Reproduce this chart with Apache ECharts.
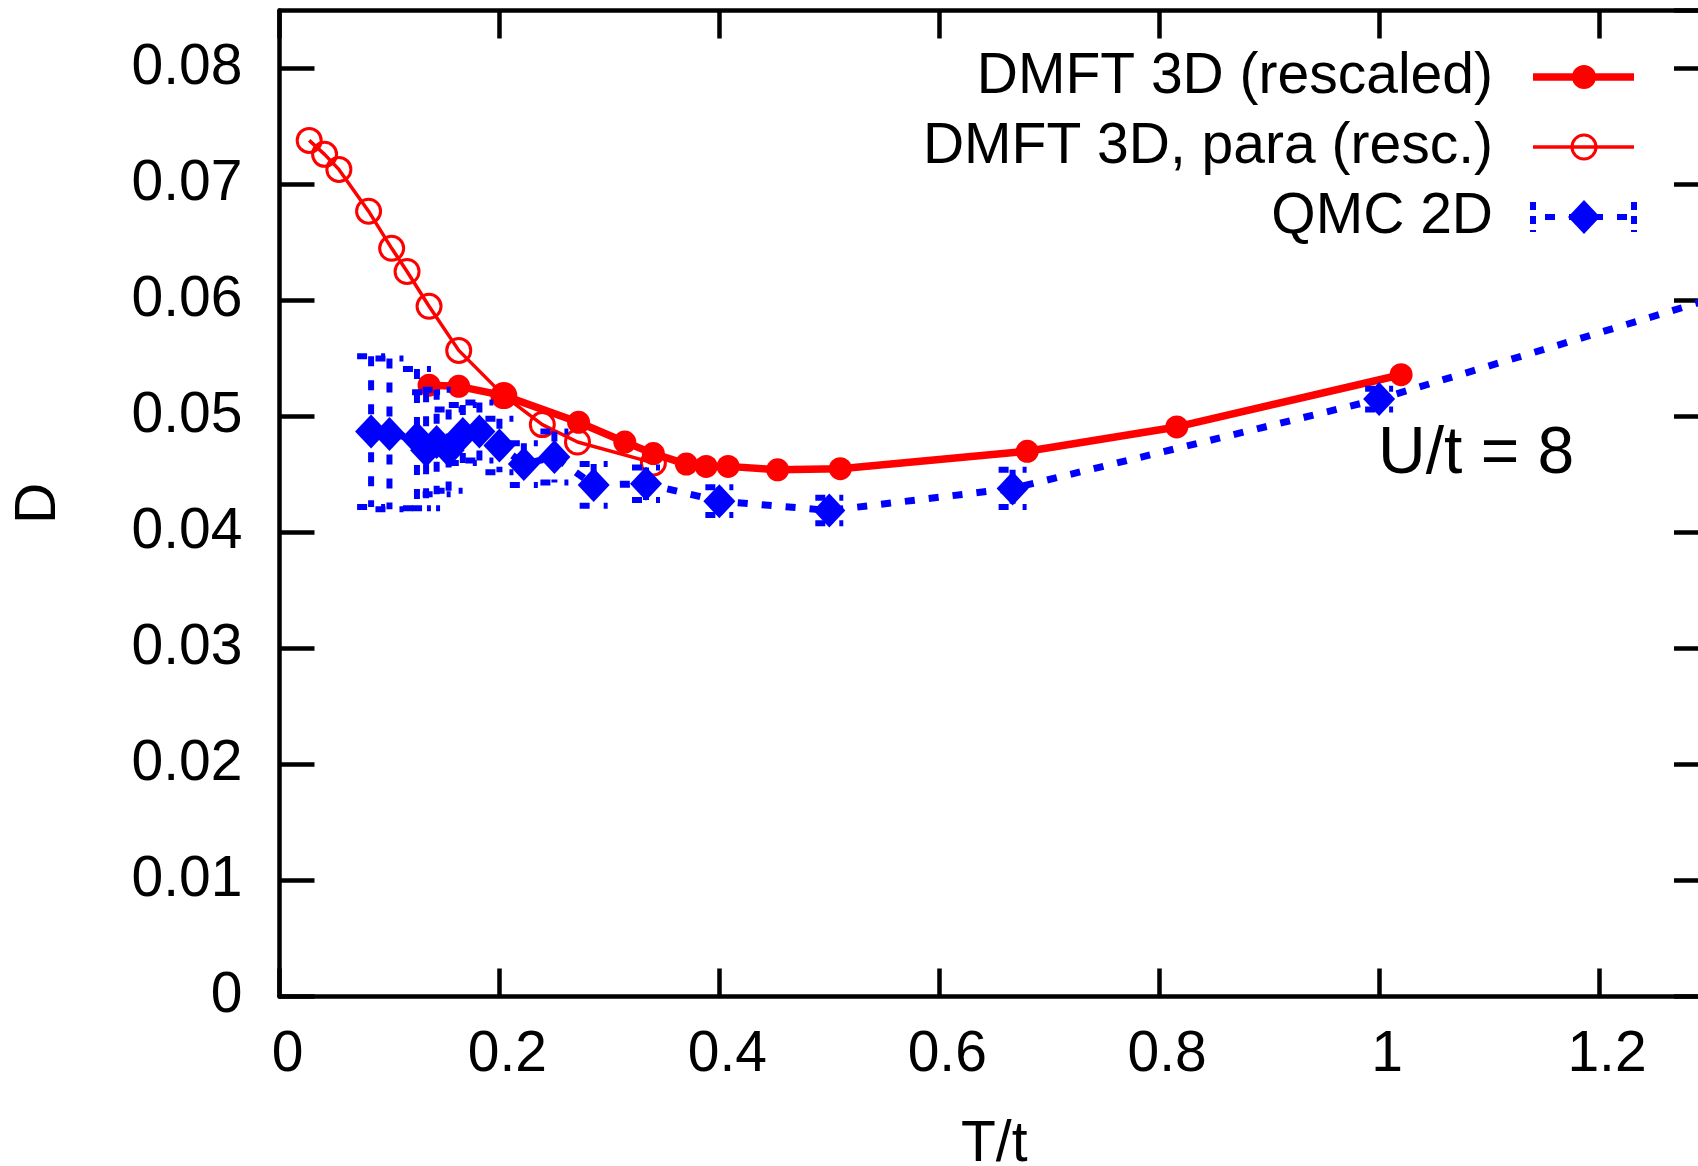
<!DOCTYPE html>
<html><head><meta charset="utf-8">
<script src="https://cdn.jsdelivr.net/npm/echarts@6/dist/echarts.min.js"></script>
<style>html,body{margin:0;padding:0;background:#fff}#c{width:1698px;height:1166px}</style>
</head><body><div id="c"></div>
<script>
// ---- data ----
const dmftT = [0.136, 0.163, 0.204, 0.272, 0.314, 0.340, 0.370, 0.388, 0.408, 0.453, 0.510, 0.680, 0.816, 1.020];
const dmftD = [0.0527, 0.0526, 0.0518, 0.0495, 0.0478, 0.0468, 0.0459, 0.0457, 0.0457, 0.0454, 0.0455, 0.0470, 0.0491, 0.0536];

const paraT = [0.027, 0.041, 0.054, 0.081, 0.102, 0.116, 0.136, 0.163, 0.204, 0.239, 0.271, 0.340];
const paraD = [0.0738, 0.0726, 0.0713, 0.0677, 0.0645, 0.0625, 0.0595, 0.0557, 0.0518, 0.0493, 0.0478, 0.0460];

const qmcT = [0.0833, 0.1, 0.125, 0.1333, 0.1429, 0.1538, 0.1667, 0.1818, 0.2, 0.2222, 0.25, 0.2857, 0.3333, 0.4, 0.5, 0.6667, 1.0, 2.0];
const qmcD = [0.0487, 0.0485, 0.0481, 0.0471, 0.0478, 0.0471, 0.0485, 0.0487, 0.0475, 0.0459, 0.0465, 0.0441, 0.0442, 0.0427, 0.0419, 0.0438, 0.0515, 0.0801];
const qmcErr = [0.0065, 0.0065, 0.0060, 0.0050, 0.0045, 0.0035, 0.0025, 0.0025, 0.0023, 0.0018, 0.0022, 0.0018, 0.0014, 0.0012, 0.0011, 0.0016, 0.0009, 0.0010];

const xTickLabels = ['0', '0.2', '0.4', '0.6', '0.8', '1', '1.2'];
const yTickLabels = ['0', '0.01', '0.02', '0.03', '0.04', '0.05', '0.06', '0.07', '0.08'];

const seriesNames = ['DMFT 3D (rescaled)', 'DMFT 3D, para (resc.)', 'QMC 2D'];
const xName = 'T/t';
const yName = 'D';
const annotation = 'U/t = 8';

// ---- chart ----
const FONT = '"Liberation Sans", Arial, Helvetica, sans-serif';
const RED = '#ff0000', BLUE = '#0000ff';
const DASH = [10, 14];
const chart = echarts.init(document.getElementById('c'), null, {renderer: 'canvas'});

const zip = (a, b) => a.map((v, i) => [v, b[i]]);

const axisLine = {show: true, onZero: false, lineStyle: {color: '#000', width: 4.5}};
const labelStyle = {color: '#000', fontSize: 57, fontFamily: FONT};

const option = {
  animation: false,
  backgroundColor: '#fff',
  grid: {left: 279.5, top: 10.5, width: 1429.5, height: 986, outerBoundsMode: 'none', containLabel: false},
  xAxis: [
    {type: 'value', min: 0, max: 1.3, interval: 0.2, position: 'bottom',
     axisLine, splitLine: {show: false},
     axisTick: {show: true, inside: true, length: 28, lineStyle: {color: '#000', width: 4.5}},
     axisLabel: Object.assign({margin: 30, showMaxLabel: false, padding: [0, 0, 0, 16],
       formatter: v => xTickLabels[Math.round(v / 0.2)] ?? ''}, labelStyle),
     name: xName, nameLocation: 'middle', nameGap: 120, nameTextStyle: labelStyle},
    {type: 'value', min: 0, max: 1.3, interval: 0.2, position: 'top',
     axisLine, splitLine: {show: false},
     axisTick: {show: true, inside: true, length: 28, lineStyle: {color: '#000', width: 4.5}},
     axisLabel: {show: false}}
  ],
  yAxis: [
    {type: 'value', min: 0, max: 0.085, interval: 0.01, position: 'left',
     axisLine, splitLine: {show: false},
     axisTick: {show: true, inside: true, length: 35, lineStyle: {color: '#000', width: 4.5}},
     axisLabel: Object.assign({margin: 37, showMaxLabel: false,
       formatter: v => yTickLabels[Math.round(v / 0.01)] ?? ''}, labelStyle),
     name: yName, nameLocation: 'middle', nameRotate: 90, nameGap: 212, nameTextStyle: labelStyle},
    {type: 'value', min: 0, max: 0.085, interval: 0.01, position: 'right',
     axisLine, splitLine: {show: false},
     axisTick: {show: true, inside: true, length: 35, lineStyle: {color: '#000', width: 4.5}},
     axisLabel: {show: false}}
  ],
  series: [
    {name: seriesNames[1], type: 'line', z: 3, data: zip(paraT, paraD),
     symbol: 'circle', symbolSize: 24, showAllSymbol: true,
     lineStyle: {color: RED, width: 3.5},
     itemStyle: {color: 'rgba(0,0,0,0)', borderColor: RED, borderWidth: 3}},
    {name: seriesNames[0], type: 'line', z: 4, data: zip(dmftT, dmftD),
     symbol: 'circle', symbolSize: 23, showAllSymbol: true,
     lineStyle: {color: RED, width: 7.5},
     itemStyle: {color: RED, borderWidth: 0}},
    {name: seriesNames[2] + ' err', type: 'custom', z: 5, clip: true,
     data: qmcT.map((t, i) => [t, qmcD[i], qmcErr[i]]),
     encode: {x: 0, y: [1]},
     renderItem: (params, api) => {
       const x = api.value(0), y = api.value(1), e = api.value(2);
       const hi = api.coord([x, y + e]), lo = api.coord([x, y - e]);
       const w = 14;
       const st = {stroke: BLUE, lineWidth: 6, lineDash: DASH, fill: null};
       return {type: 'group', children: [
         {type: 'line', shape: {x1: hi[0], y1: hi[1], x2: lo[0], y2: lo[1]}, style: st},
         {type: 'line', shape: {x1: hi[0] - w, y1: hi[1], x2: hi[0] + w, y2: hi[1]}, style: st},
         {type: 'line', shape: {x1: lo[0] - w, y1: lo[1], x2: lo[0] + w, y2: lo[1]}, style: st}
       ]};
     }},
    {name: seriesNames[2], type: 'line', z: 6, data: zip(qmcT, qmcD),
     symbol: 'diamond', symbolSize: [32, 34], showAllSymbol: true,
     lineStyle: {color: BLUE, width: 7, type: DASH, cap: 'butt'},
     itemStyle: {color: BLUE, borderWidth: 0}}
  ],
  graphic: [
    // annotation
    {type: 'text', left: 1378, top: 422, z: 10,
     style: {text: annotation, fontSize: 66, fontFamily: FONT, fill: '#000'}},
    // legend texts
    {type: 'text', x: 1493, y: 77, z: 10, style: {text: seriesNames[0], fontSize: 57, fontFamily: FONT, fill: '#000', align: 'right', verticalAlign: 'middle'}},
    {type: 'text', x: 1493, y: 147, z: 10, style: {text: seriesNames[1], fontSize: 57, fontFamily: FONT, fill: '#000', align: 'right', verticalAlign: 'middle'}},
    {type: 'text', x: 1493, y: 217, z: 10, style: {text: seriesNames[2], fontSize: 57, fontFamily: FONT, fill: '#000', align: 'right', verticalAlign: 'middle'}},
    // legend samples
    {type: 'line', z: 10, shape: {x1: 1533, y1: 77, x2: 1634, y2: 77}, style: {stroke: RED, lineWidth: 7.5}},
    {type: 'circle', z: 10, shape: {cx: 1584, cy: 77, r: 12}, style: {fill: RED}},
    {type: 'line', z: 10, shape: {x1: 1533, y1: 147, x2: 1634, y2: 147}, style: {stroke: RED, lineWidth: 3.5}},
    {type: 'circle', z: 10, shape: {cx: 1584, cy: 147, r: 12}, style: {fill: null, stroke: RED, lineWidth: 3}},
    {type: 'line', z: 10, shape: {x1: 1545, y1: 217, x2: 1634, y2: 217}, style: {stroke: BLUE, lineWidth: 6, lineDash: DASH}},
    {type: 'line', z: 10, shape: {x1: 1533, y1: 202, x2: 1533, y2: 232}, style: {stroke: BLUE, lineWidth: 6, lineDash: [8, 6]}},
    {type: 'line', z: 10, shape: {x1: 1634, y1: 202, x2: 1634, y2: 232}, style: {stroke: BLUE, lineWidth: 6, lineDash: [8, 6]}},
    {type: 'polygon', z: 11, shape: {points: [[1584, 200], [1600, 217], [1584, 234], [1568, 217]]}, style: {fill: BLUE}}
  ]
};
chart.setOption(option);
</script>
</body></html>
